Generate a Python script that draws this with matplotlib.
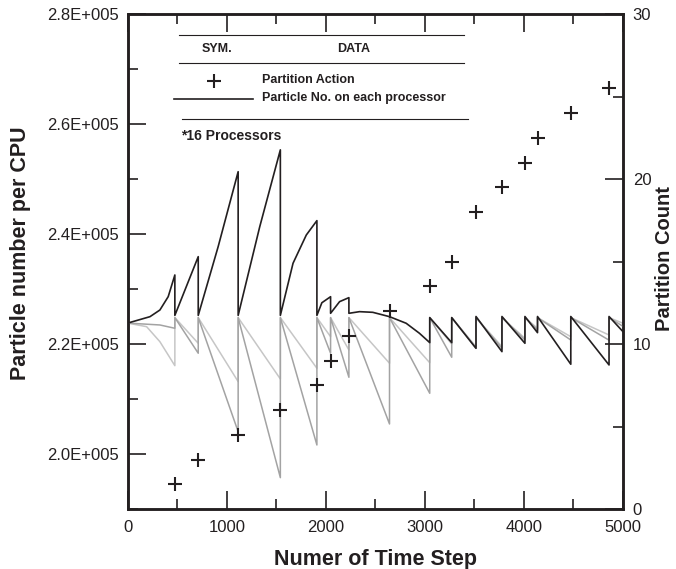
import matplotlib
matplotlib.use("Agg")
import matplotlib.pyplot as plt
from matplotlib.ticker import FixedLocator, MultipleLocator

plt.rcParams['font.family'] = ['Liberation Sans', 'DejaVu Sans']

# ---------------- data ----------------
# Partition actions (time step, partition count on right axis)
partition_steps = [476, 712, 1115, 1541, 1910, 2048, 2233, 2643, 3049, 3271,
                   3516, 3778, 4010, 4137, 4473, 4859]
partition_count = [1.5, 3, 4.5, 6, 7.5, 9, 10.5, 12, 13.5, 15,
                   18, 19.5, 21, 22.5, 24, 25.5]

# Particle number per CPU - heaviest processor (black)
black_steps = [0, 225, 325, 409, 476,
               476, 712,
               712, 913, 1115,
               1115, 1333, 1541,
               1541, 1669, 1803, 1910,
               1910, 1960, 2048,
               2048, 2139, 2233,
               2233, 2340, 2474, 2643, 2811, 2945, 3049,
               3049, 3271,
               3271, 3516,
               3516, 3778,
               3778, 4010,
               4010, 4137,
               4137, 4473,
               4473, 4859,
               4859, 5000]
black_vals = [223800, 224970, 226180, 228610, 232550,
              225200, 235880,
              225200, 237690, 251330,
              225200, 241330, 255300,
              225200, 234680, 239820, 242430,
              225200, 227500, 228600,
              225580, 227700, 228430,
              225580, 225880, 225760, 224970, 223770, 221950, 220250,
              224800, 220250,
              224800, 219220,
              225000, 218610,
              225000, 220130,
              225000, 222060,
              225000, 216320,
              225000, 216190,
              225000, 222240]

# Light grey processor
light_steps = [0, 191, 325, 476,
               476, 712, 712, 1115, 1115, 1541, 1541, 1910, 1910, 2048,
               2048, 2233, 2233, 2643, 2643, 3049, 3049, 3271, 3271, 3516,
               3516, 3778, 3778, 4010, 4010, 4137, 4137, 4473, 4473, 4859,
               4859, 5000]
light_vals = [223800, 223150, 220420, 216060,
              224800, 220130, 224800, 213160, 224800, 213640, 224800, 215590,
              224800, 221330, 224800, 218920, 224800, 216500, 224800, 216600,
              224800, 220000, 224800, 219520, 224800, 219520, 224800, 221040,
              224800, 222860, 224800, 221330, 224800, 221640, 224800, 223770]

# Mid grey processor
mid_steps = [0, 325, 476,
             476, 712, 712, 1115, 1115, 1541, 1541, 1910, 1910, 2048,
             2048, 2233, 2233, 2643, 2643, 3049, 3049, 3271, 3271, 3516,
             3516, 3778, 3778, 4010, 4010, 4137, 4137, 4473, 4473, 4859,
             4859, 5000]
mid_vals = [223800, 223460, 222860,
            224800, 218320, 224800, 204060, 224800, 195700, 224800, 201640,
            224800, 218320, 224800, 213950, 224800, 205460, 224800, 211040,
            224800, 217590, 224800, 219220, 224800, 219220, 224800, 220740,
            224800, 222560, 224800, 220730, 224800, 220700, 224800, 223200]

left_ticks = [200000, 220000, 240000, 260000, 280000]
left_tick_labels = ['2.0E+005', '2.2E+005', '2.4E+005', '2.6E+005', '2.8E+005']
right_ticks = [0, 10, 20, 30]
x_ticks = [0, 1000, 2000, 3000, 4000, 5000]

# ---------------- figure ----------------
TXT = '#231f20'
fig = plt.figure(figsize=(6.76, 5.69), dpi=100)
ax = fig.add_axes([127.7 / 676, 1 - 509 / 569, (623 - 127.7) / 676, (509 - 14) / 569])
ax2 = ax.twinx()

ax.plot(light_steps, light_vals, color='#c6c6c6', lw=1.1, zorder=2)
ax.plot(mid_steps, mid_vals, color='#a3a3a3', lw=1.1, zorder=3)
ax.plot(black_steps, black_vals, color='#231f20', lw=1.2, zorder=4)

ax2.plot(partition_steps, partition_count, linestyle='none', marker='+',
         markersize=10, markeredgewidth=1.5, color=TXT)

ax.set_xlim(0, 5000)
ax.set_ylim(190000, 280000)
ax2.set_ylim(0, 30)

ax.xaxis.set_major_locator(FixedLocator(x_ticks))
ax.xaxis.set_minor_locator(MultipleLocator(500))
ax.yaxis.set_major_locator(FixedLocator(left_ticks))
ax.set_yticklabels(left_tick_labels)
ax.yaxis.set_minor_locator(MultipleLocator(10000))
ax2.yaxis.set_major_locator(FixedLocator(right_ticks))
ax2.yaxis.set_minor_locator(MultipleLocator(5))

for a in (ax, ax2):
    for s in a.spines.values():
        s.set_linewidth(1.8)
        s.set_color(TXT)

ax.tick_params(axis='x', which='both', direction='in', top=True, bottom=True,
               labelsize=12, pad=8, colors=TXT)
ax.tick_params(axis='y', which='both', direction='in', left=True, right=False,
               labelsize=12, pad=6, colors=TXT)
ax.tick_params(which='major', length=13, width=1.2)
ax.tick_params(which='minor', length=7, width=1.2)
ax2.tick_params(axis='y', which='both', direction='in', right=True, left=False,
                labelsize=12, pad=7, colors=TXT)
ax2.tick_params(which='major', length=13, width=1.2)
ax2.tick_params(which='minor', length=7, width=1.2)

ax.set_xlabel('Numer of Time Step', fontsize=15.5, fontweight='bold', color=TXT)
ax.xaxis.set_label_coords(0.5, -0.081)
ax.set_ylabel('Particle number per CPU', fontsize=15.5, fontweight='bold', color=TXT)
ax.yaxis.set_label_coords(-0.196, 0.517)
ax2.set_ylabel('Partition Count', fontsize=14.5, fontweight='bold', color=TXT)
ax2.yaxis.set_label_coords(1.064, 0.505)

# ---------------- legend table ----------------
T = ax2.transAxes
ax2.plot([0.1042, 0.6796], [0.9576, 0.9576], color=TXT, lw=0.8, transform=T, clip_on=False)
ax2.plot([0.1042, 0.6796], [0.9004, 0.9004], color=TXT, lw=0.8, transform=T, clip_on=False)
ax2.plot([0.1090, 0.6877], [0.7885, 0.7885], color=TXT, lw=0.8, transform=T, clip_on=False)
ax2.text(0.1809, 0.9290, 'SYM.', transform=T, ha='center', va='center',
         fontsize=9, fontweight='bold', color=TXT)
ax2.text(0.4555, 0.9290, 'DATA', transform=T, ha='center', va='center',
         fontsize=9, fontweight='bold', color=TXT)
ax2.plot([0.1742], [0.8646], linestyle='none', marker='+', markersize=10,
         markeredgewidth=1.5, color=TXT, transform=T)
ax2.text(0.2705, 0.8660, 'Partition Action', transform=T, ha='left', va='center',
         fontsize=9, fontweight='bold', color=TXT)
ax2.plot([0.0941, 0.2536], [0.8283, 0.8283], color=TXT, lw=1.2, transform=T)
ax2.text(0.2705, 0.8297, 'Particle No. on each processor', transform=T, ha='left',
         va='center', fontsize=9, fontweight='bold', color=TXT)
ax2.text(0.1070, 0.7535, '*16 Processors', transform=T, ha='left', va='center',
         fontsize=10, fontweight='bold', color=TXT)

fig.savefig('out.png', dpi=100)
